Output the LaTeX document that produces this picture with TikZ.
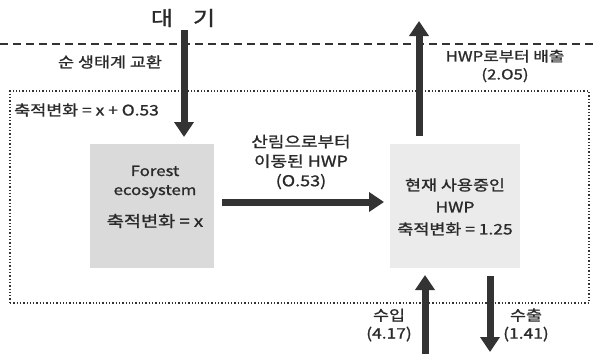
\documentclass[tikz,border=0pt]{standalone}
\usepackage{fontspec}
\setmainfont[FakeStretch=1.2,FakeBold=1.2]{Noto Sans CJK KR}
\usetikzlibrary{arrows.meta}
\definecolor{arrowgray}{HTML}{333333}
\definecolor{boxA}{HTML}{DADADA}
\definecolor{boxB}{HTML}{EBEBEB}
\definecolor{txt}{HTML}{2A2A2A}
\begin{document}
\begin{tikzpicture}[x=1pt,y=-1pt,
  flow/.style={line width=7pt,draw=arrowgray,-{Triangle[width=19pt,length=15pt]}},
  lbl/.style={text=txt,font=\fontsize{14.5}{18}\selectfont,inner sep=0pt,align=center},
  stock/.style={minimum width=124pt,minimum height=124pt,inner sep=0pt}]
\useasboundingbox (0,0) rectangle (593,354);
% dashed atmosphere line
\coordinate (dl) at (0,44);
\coordinate (dr) at (593,44);
\draw[line width=1.3pt,draw=arrowgray,dash pattern=on 8pt off 5pt] (dl) -- (dr);
% dotted boundary
\node[draw=arrowgray,dotted,line width=1.3pt,minimum width=579pt,minimum height=212pt,inner sep=0pt] (bound) at (299.5,197) {};
% boxes
\node[stock,fill=boxA] (forest) at (152,206) {};
\node[stock,fill=boxB,minimum width=130pt] (hwp) at (455,206) {};
% texts
\node[lbl,font=\fontsize{20}{22}\selectfont] (atm) at (183,18) {대\hspace{20pt}기};
\node[lbl] (nee) at (110,62) {순 생태계 교환};
\node[lbl,anchor=west] (acc) at (14,110) {축적변화 = x + O.53};
\node[lbl,font=\fontsize{14}{19}\selectfont] (ftext) at (155,182) {Forest\\ecosystem};
\node[lbl,font=\fontsize{15.5}{16}\selectfont] (facc) at (155,221) {축적변화 = x};
\node[lbl,font=\fontsize{14.5}{22}\selectfont] (htext) at (455,207) {현재 사용중인\\HWP\\축적변화 = 1.25};
\node[lbl,font=\fontsize{15}{19.5}\selectfont] (trans) at (301,162) {산림으로부터\\이동된 HWP\\(O.53)};
\node[lbl,font=\fontsize{14}{18}\selectfont] (emit) at (505,66) {HWP로부터 배출\\(2.O5)};
\node[lbl,font=\fontsize{14.5}{18}\selectfont,anchor=east] (imp) at (412,325) {수입\\(4.17)};
\node[lbl,font=\fontsize{14.5}{18}\selectfont,anchor=west] (exp) at (503,325) {수출\\(1.41)};
% arrow end points
\coordinate (a1s) at (184,30);
\coordinate (a1e) at (184,137);
\coordinate (a2s) at (222,202);
\coordinate (a2e) at (384,202);
\coordinate (a3s) at (419,136);
\coordinate (a3e) at (419,21);
\coordinate (a4s) at (425,354);
\coordinate (a4e) at (425,275);
\coordinate (a5s) at (490,276);
\coordinate (a5e) at (490,352);
\draw[flow] (a1s) -- (a1e);
\draw[flow] (a2s) -- (a2e);
\draw[flow] (a3s) -- (a3e);
\draw[flow] (a4s) -- (a4e);
\draw[flow] (a5s) -- (a5e);
\end{tikzpicture}
\end{document}
